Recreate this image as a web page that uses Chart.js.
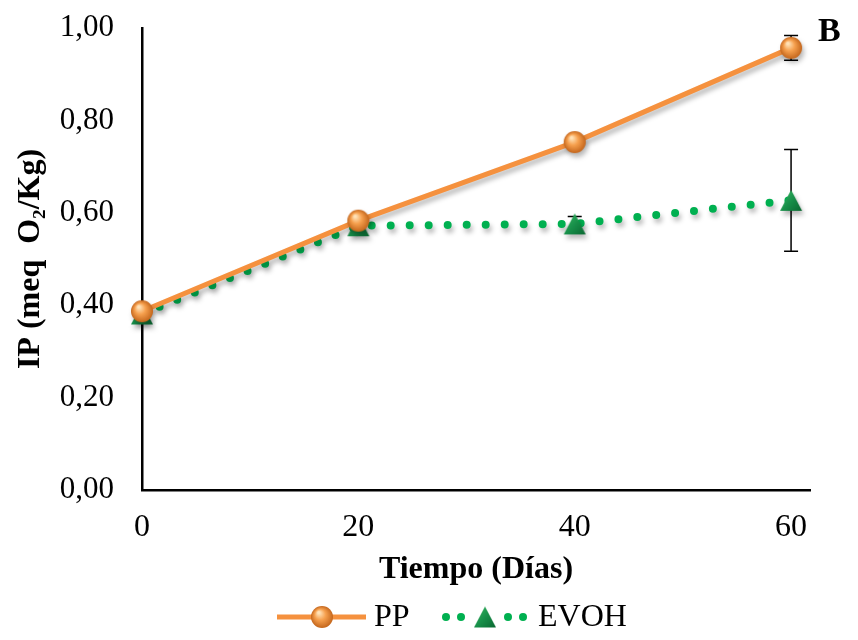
<!DOCTYPE html>
<html>
<head>
<meta charset="utf-8">
<script src="https://cdn.jsdelivr.net/npm/chart.js@4.4.0/dist/chart.umd.min.js"></script>
<style>
  html, body { margin: 0; padding: 0; background: #fff; }
  #wrap { width: 858px; height: 640px; }
</style>
</head>
<body>
<div id="wrap"><canvas id="ipChart" width="858" height="640"></canvas></div>
<script>
const dias = [0, 20, 40, 60];
const ppValues = [0.387, 0.583, 0.753, 0.957];
const ppError = [0, 0, 0, 0.027];
const evohValues = [0.381, 0.572, 0.576, 0.627];
const evohError = [0, 0, 0.016, 0.11];
const xTicks = [0, 20, 40, 60];
const yTicks = [0, 0.2, 0.4, 0.6, 0.8, 1.0];

const ORANGE = '#F5913E';
const GREEN = '#00B050';
const SERIF = '"Liberation Serif", "Times New Roman", serif';

// marker images (shaded ball / triangle like the Excel original)
function makeBall(r) {
  const c = document.createElement('canvas');
  c.width = c.height = 2 * r + 2;
  const g = c.getContext('2d');
  const cx = r + 1;
  const grad = g.createRadialGradient(cx - r * 0.3, cx - r * 0.4, 1, cx, cx, r);
  grad.addColorStop(0, '#FFE2B8');
  grad.addColorStop(0.45, '#F6A04E');
  grad.addColorStop(1, '#C4661C');
  g.fillStyle = grad;
  g.beginPath();
  g.arc(cx, cx, r, 0, Math.PI * 2);
  g.fill();
  return c;
}

function makeTriangle(w, h) {
  const c = document.createElement('canvas');
  c.width = w + 2;
  c.height = h + 2;
  const g = c.getContext('2d');
  const grad = g.createLinearGradient(0, 0, w, h);
  grad.addColorStop(0, '#3FBF66');
  grad.addColorStop(0.55, '#18904A');
  grad.addColorStop(1, '#0B6B33');
  g.fillStyle = grad;
  g.beginPath();
  g.moveTo(1 + w / 2, 1);
  g.lineTo(1 + w, 1 + h);
  g.lineTo(1, 1 + h);
  g.closePath();
  g.fill();
  return c;
}

const ball = makeBall(11);
const tri = makeTriangle(22, 21);

const errorBars = {
  id: 'errorBars',
  beforeDatasetsDraw(chart) {
    const ctx = chart.ctx;
    const x = chart.scales.x, y = chart.scales.y;
    ctx.save();
    ctx.strokeStyle = '#000';
    ctx.lineWidth = 1.5;
    [[ppValues, ppError], [evohValues, evohError]].forEach(([vals, errs]) => {
      vals.forEach((v, i) => {
        if (!errs[i]) return;
        const px = x.getPixelForValue(dias[i]);
        const top = y.getPixelForValue(v + errs[i]);
        const bot = y.getPixelForValue(v - errs[i]);
        ctx.beginPath();
        ctx.moveTo(px, top); ctx.lineTo(px, bot);
        ctx.moveTo(px - 7, top); ctx.lineTo(px + 7, top);
        ctx.moveTo(px - 7, bot); ctx.lineTo(px + 7, bot);
        ctx.stroke();
      });
    });
    ctx.restore();
  }
};

const shadow = {
  id: 'shadow',
  beforeDatasetDraw(chart) {
    const ctx = chart.ctx;
    ctx.save();
    ctx.shadowColor = 'rgba(0,0,0,0.28)';
    ctx.shadowBlur = 5;
    ctx.shadowOffsetX = 2;
    ctx.shadowOffsetY = 4;
  },
  afterDatasetDraw(chart) {
    chart.ctx.restore();
  }
};

const legendAndLetter = {
  id: 'legendAndLetter',
  afterDraw(chart) {
    const ctx = chart.ctx;
    const ly = 617;
    ctx.save();
    // PP
    ctx.strokeStyle = ORANGE;
    ctx.lineWidth = 5;
    ctx.beginPath();
    ctx.moveTo(277, ly); ctx.lineTo(366, ly);
    ctx.stroke();
    ctx.drawImage(ball, 322 - ball.width / 2, ly - ball.height / 2);
    // EVOH
    ctx.fillStyle = GREEN;
    [446, 461, 508, 523].forEach(dx => {
      ctx.beginPath();
      ctx.arc(dx, ly, 4, 0, Math.PI * 2);
      ctx.fill();
    });
    ctx.drawImage(tri, 485 - tri.width / 2, ly - tri.height / 2);
    ctx.fillStyle = '#000';
    ctx.font = '32px ' + SERIF;
    ctx.textBaseline = 'middle';
    ctx.fillText('PP', 374, ly + 1);
    ctx.fillText('EVOH', 538, ly + 1);
    // panel letter
    ctx.font = 'bold 34px ' + SERIF;
    ctx.fillText('B', 818, 32);
    ctx.restore();
  }
};

const fmt = v => v.toFixed(2).replace('.', ',');

new Chart(document.getElementById('ipChart'), {
  type: 'line',
  data: {
    datasets: [
      {
        label: 'PP',
        data: dias.map((d, i) => ({ x: d, y: ppValues[i] })),
        borderColor: ORANGE,
        borderWidth: 5,
        pointStyle: ball,
        pointRadius: 11,
        clip: false
      },
      {
        label: 'EVOH',
        data: dias.map((d, i) => ({ x: d, y: evohValues[i] })),
        borderColor: GREEN,
        borderWidth: 8,
        borderDash: [0, 19],
        borderCapStyle: 'round',
        pointStyle: tri,
        pointRadius: 11,
        clip: false
      }
    ]
  },
  options: {
    responsive: false,
    animation: false,
    events: [],
    layout: { padding: { top: 28, right: 48, bottom: 45, left: 0 } },
    plugins: {
      legend: { display: false },
      tooltip: { enabled: false }
    },
    scales: {
      x: {
        type: 'linear',
        min: 0,
        max: 61.75,
        afterBuildTicks: s => { s.ticks = xTicks.map(v => ({ value: v })); },
        afterFit: s => { s.height = 105; s.paddingLeft = 0; s.paddingRight = 0; },
        grid: { display: false, drawTicks: false },
        border: { display: true, color: '#000', width: 2.5 },
        ticks: { color: '#000', font: { family: SERIF, size: 32 }, padding: 18, maxRotation: 0 },
        title: {
          display: true,
          text: 'Tiempo (Días)',
          color: '#000',
          font: { family: SERIF, size: 32, weight: 'bold' },
          padding: { top: 0, bottom: 6 }
        }
      },
      y: {
        min: 0,
        max: 1,
        afterBuildTicks: s => { s.ticks = yTicks.map(v => ({ value: v })); },
        afterFit: s => { s.width = 142; s.paddingTop = 0; s.paddingBottom = 0; },
        grid: { display: false, drawTicks: false },
        border: { display: true, color: '#000', width: 2.5 },
        ticks: { color: '#000', font: { family: SERIF, size: 31 }, padding: 28, callback: v => fmt(v) },
        title: {
          display: true,
          text: 'IP (meq  O₂/Kg)',
          color: '#000',
          font: { family: SERIF, size: 32, weight: 'bold' },
          padding: { top: 12, bottom: 0 }
        }
      }
    }
  },
  plugins: [errorBars, shadow, legendAndLetter]
});
</script>
</body>
</html>
